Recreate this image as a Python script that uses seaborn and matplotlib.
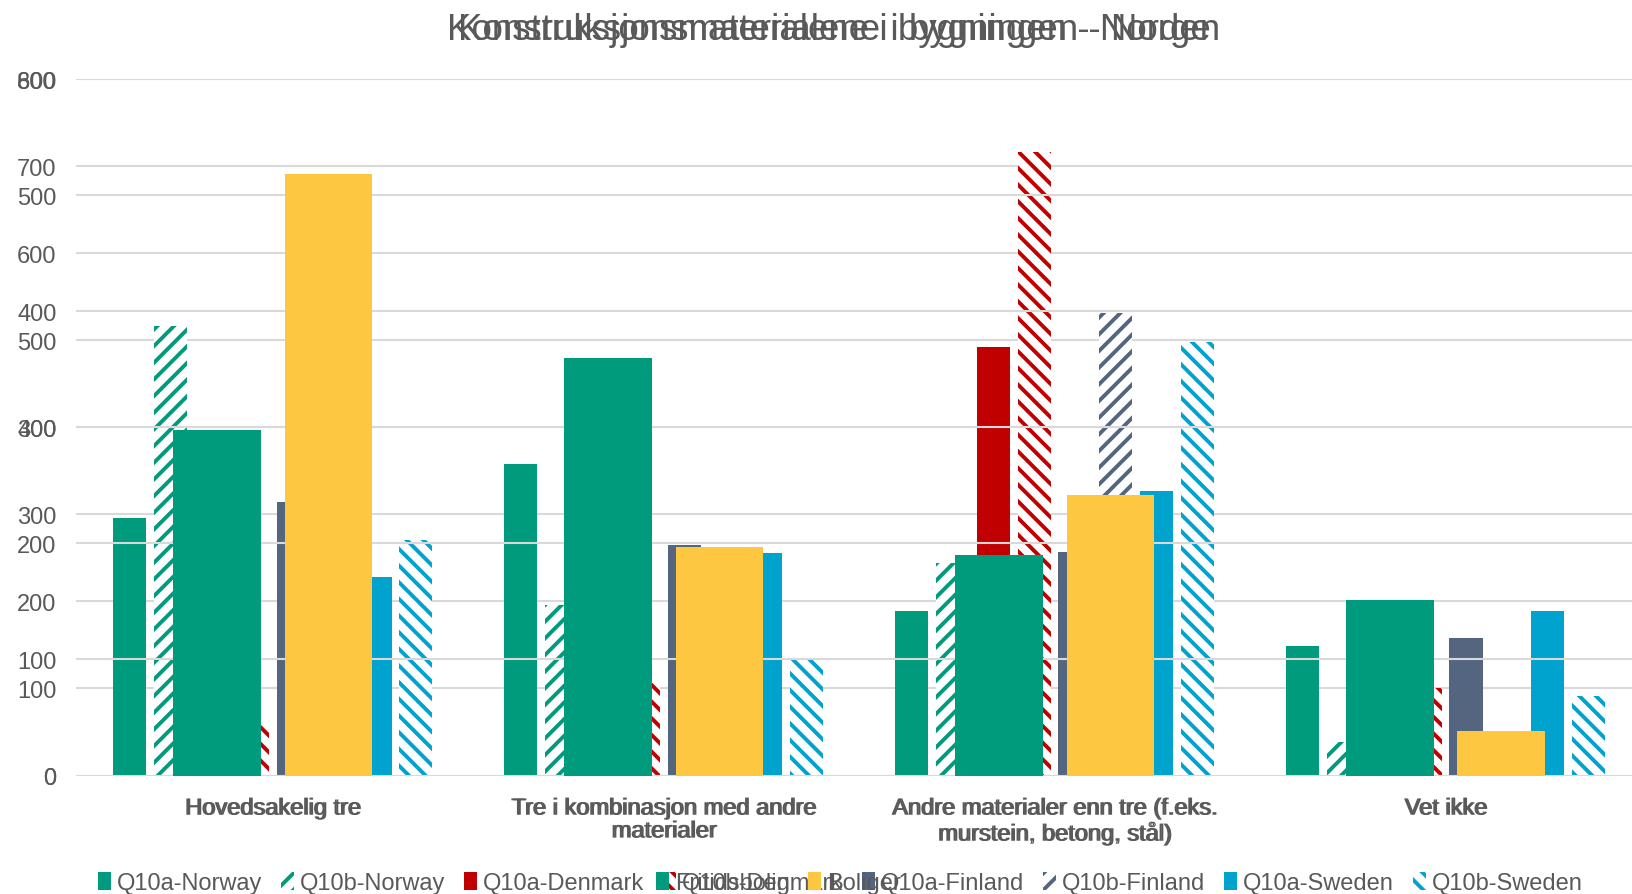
import matplotlib
matplotlib.use("Agg")
import matplotlib.patheffects as pe
import matplotlib.pyplot as plt
import pandas as pd
import seaborn as sns

# categories (x axis)
CATEGORIES = [
    "Hovedsakelig tre",
    "Tre i kombinasjon med andre\nmaterialer",
    "Andre materialer enn tre (f.eks.\nmurstein, betong, stål)",
    "Vet ikke",
]

# chart A: Nordic countries, 0-800 axis
SERIES_A = [
    "Q10a-Norway", "Q10b-Norway", "Q10a-Denmark", "Q10b-Denmark",
    "Q10a-Finland", "Q10b-Finland", "Q10a-Sweden", "Q10b-Sweden",
]
Q10A_NORWAY = [296, 358, 189, 149]
Q10B_NORWAY = [516, 196, 244, 39]
Q10A_DENMARK = [200, 250, 492, 60]   # 1, 2 and 4 are hidden behind the wide bars
Q10B_DENMARK = [59, 106, 716, 100]
Q10A_FINLAND = [314, 265, 257, 158]
Q10B_FINLAND = [450, 180, 531, 30]   # 1, 2 and 4 hidden behind the yellow bars
Q10A_SWEDEN = [228, 256, 327, 189]
Q10B_SWEDEN = [271, 134, 498, 91]
COLORS_A = ["#009B7D", "#009B7D", "#C00000", "#C00000",
            "#54657F", "#54657F", "#00A2CE", "#00A2CE"]
HATCHES_A = [None, "//", None, "\\\\", None, "//", None, "\\\\"]

# chart B: Norway only, 0-600 axis
SERIES_B = ["Fritidsbolig", "Boliger"]
FRITIDSBOLIG = [298, 360, 190, 151]
BOLIGER = [518, 197, 242, 38]
COLORS_B = ["#009B7D", "#FDC741"]

TITLE_A = "Konstruksjonsmaterialene i bygningen - Norden"
TITLE_B = "Konstruksjonsmaterialene i bygningen - Norge"

TEXT = "#595959"
GRID = "#D9D9D9"

sns.set_style("white")
plt.rcParams["font.family"] = ["Liberation Sans", "DejaVu Sans"]
plt.rcParams["hatch.linewidth"] = 2.8


def long_df(series, values):
    rows = []
    for name, vals in zip(series, values):
        for cat, v in zip(CATEGORIES, vals):
            rows.append({"kategori": cat, "serie": name, "antall": v})
    return pd.DataFrame(rows)


df_a = long_df(SERIES_A, [Q10A_NORWAY, Q10B_NORWAY, Q10A_DENMARK, Q10B_DENMARK,
                          Q10A_FINLAND, Q10B_FINLAND, Q10A_SWEDEN, Q10B_SWEDEN])
df_b = long_df(SERIES_B, [FRITIDSBOLIG, BOLIGER])

fig = plt.figure(figsize=(16.32, 8.95), dpi=100)
rect = [0.0466, 0.1324, 0.9534, 0.7782]
ax1 = fig.add_axes(rect)
ax2 = fig.add_axes(rect, sharex=ax1)
ax2.patch.set_visible(False)

sns.barplot(data=df_a, x="kategori", y="antall", hue="serie", hue_order=SERIES_A,
            palette=dict(zip(SERIES_A, COLORS_A)), saturation=1, errorbar=None,
            width=0.837, gap=0.19, legend=False, ax=ax1)
sns.barplot(data=df_b, x="kategori", y="antall", hue="serie", hue_order=SERIES_B,
            palette=dict(zip(SERIES_B, COLORS_B)), saturation=1, errorbar=None,
            width=0.57, gap=0.215, legend=False, ax=ax2)

for cont, color, hatch in zip(ax1.containers, COLORS_A, HATCHES_A):
    for bar in cont:
        bar.set_linewidth(0)
        if hatch:
            bar.set_facecolor("white")
            bar.set_edgecolor(color)
            bar.set_hatch(hatch)
for cont in ax2.containers:
    for bar in cont:
        bar.set_linewidth(0)

for ax, top in ((ax1, 800), (ax2, 600)):
    ax.set_ylim(0, top)
    ax.set_yticks(range(0, top + 1, 100))
    ax.yaxis.grid(True, color=GRID, linewidth=1.5)
    ax.set_axisbelow(True)
    ax.tick_params(axis="y", length=0, pad=14, labelsize=17, labelcolor=TEXT)
    ax.tick_params(axis="x", length=0, pad=16, labelsize=17, labelcolor=TEXT)
    ax.set_xlabel("")
    ax.set_ylabel("")
    for s in ax.spines.values():
        s.set_visible(False)
ax1.set_xlim(-0.503, 3.477)
ax2.tick_params(axis="x", labelbottom=False)

# both charts print the same category labels, slightly shifted -> doubled look
doubled = [pe.SimplePatchShadow(offset=(1.2, 0), shadow_rgbFace=TEXT, alpha=1),
           pe.Normal()]
for lab in ax1.get_xticklabels():
    lab.set_linespacing(1.05)
    lab.set_path_effects(doubled)

fig.text(0.511, 0.966, TITLE_A, ha="center", va="center", fontsize=26.5, color=TEXT)
fig.text(0.511, 0.966, TITLE_B, ha="center", va="center", fontsize=26.5, color=TEXT)

handles_a = [c[0] for c in ax1.containers]
handles_b = [c[0] for c in ax2.containers]
fig.legend(handles_a, SERIES_A, loc="center", bbox_to_anchor=(0.515, 0.012),
           ncol=8, frameon=False, fontsize=17, labelcolor=TEXT,
           handlelength=0.55, handleheight=0.8, handletextpad=0.25,
           columnspacing=0.8, borderaxespad=0)
fig.legend(handles_b, SERIES_B, loc="center", bbox_to_anchor=(0.477, 0.012),
           ncol=2, frameon=False, fontsize=17, labelcolor=TEXT,
           handlelength=0.55, handleheight=0.8, handletextpad=0.25,
           columnspacing=0.8, borderaxespad=0)

fig.savefig("out.png", dpi=100)
